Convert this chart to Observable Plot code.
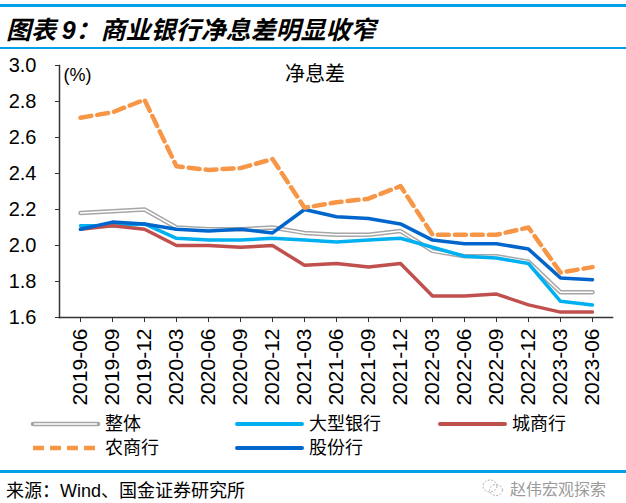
<!DOCTYPE html>
<html>
<head>
<meta charset="utf-8">
<script src="https://cdn.jsdelivr.net/npm/d3@7"></script>
<script src="https://cdn.jsdelivr.net/npm/@observablehq/plot@0.6"></script>
<style>
  body { margin: 0; background: #fff; }
  #page { position: relative; width: 626px; height: 503px; overflow: hidden; background: #fff; }
  .bar { position: absolute; left: 0; width: 626px; background: #00a0e6; }
  #title { position: absolute; left: 6px; top: 10px; font-family: "Noto Sans CJK SC", sans-serif; font-size: 25px; font-weight: bold; font-style: italic; color: #000; white-space: nowrap; }
  #title .num { font-family: "Liberation Sans", Arial, sans-serif; }
  #chart { position: absolute; left: 0; top: 50px; }
  #legend { position: absolute; left: 0; top: 410px; }
  #source { position: absolute; left: 6px; top: 476px; font-family: "Noto Sans CJK SC", sans-serif; font-size: 18px; color: #000; white-space: nowrap; }
  #source .lat { font-family: "Liberation Sans", Arial, sans-serif; }
  #wm { position: absolute; left: 482px; top: 476px; font-family: "Noto Sans CJK SC", sans-serif; font-size: 16px; color: #9a9a9a; white-space: nowrap; display: flex; align-items: center; gap: 6px; }
</style>
</head>
<body>
<div id="page">
  <div class="bar" style="top:4px;height:3px;"></div>
  <div id="title">图表 <span class="num">9</span>：商业银行净息差明显收窄</div>
  <div class="bar" style="top:47px;height:2px;"></div>
  <div id="chart"></div>
  <div id="legend"></div>
  <div class="bar" style="top:470px;height:3px;"></div>
  <div id="source">来源：<span class="lat">Wind</span>、国金证券研究所</div>
  <div id="wm"><svg width="22" height="20" viewBox="0 0 22 20"><ellipse cx="8" cy="8" rx="7" ry="6" fill="none" stroke="#b0b0b0" stroke-width="1" stroke-dasharray="2,1.5"/><ellipse cx="14" cy="12" rx="6.5" ry="5.5" fill="none" stroke="#b0b0b0" stroke-width="1" stroke-dasharray="2,1.5"/></svg><span>赵伟宏观探索</span></div>
</div>
<script>
const dates = ["2019-06","2019-09","2019-12","2020-03","2020-06","2020-09","2020-12","2021-03","2021-06","2021-09","2021-12","2022-03","2022-06","2022-09","2022-12","2023-03","2023-06"];
const overall    = [2.18,2.19,2.20,2.10,2.09,2.09,2.10,2.07,2.06,2.06,2.08,1.97,1.94,1.94,1.91,1.74,1.74];
const largeBanks = [2.11,2.11,2.12,2.04,2.03,2.03,2.04,2.03,2.02,2.03,2.04,1.99,1.94,1.93,1.90,1.69,1.67];
const cityBanks  = [2.09,2.11,2.09,2.00,2.00,1.99,2.00,1.89,1.90,1.88,1.90,1.72,1.72,1.73,1.67,1.63,1.63];
const ruralBanks = [2.71,2.74,2.81,2.44,2.42,2.43,2.48,2.21,2.24,2.26,2.33,2.06,2.06,2.06,2.10,1.85,1.88];
const jointStock = [2.09,2.13,2.12,2.09,2.08,2.09,2.07,2.20,2.16,2.15,2.12,2.03,2.01,2.01,1.98,1.82,1.81];
const seriesNames = ["整体","大型银行","城商行","农商行","股份行"];
const yTicks = [1.6,1.8,2.0,2.2,2.4,2.6,2.8,3.0];

const colors = {"整体":"#a6a6a6","大型银行":"#00b0f0","城商行":"#c0504d","农商行":"#f79646","股份行":"#0066cc"};
const rows = (vals) => dates.map((d, i) => ({date: d, value: vals[i]}));

const latin = "'Liberation Sans', Arial, sans-serif";
const cjk = "'Noto Sans CJK SC', sans-serif";

const chart = Plot.plot({
  width: 626,
  height: 370,
  marginTop: 15,
  marginBottom: 103,
  marginLeft: 59,
  marginRight: 14,
  style: {fontFamily: latin, color: "#000", background: "transparent", overflow: "visible"},
  x: {type: "point", domain: dates, insetLeft: 3, insetRight: 3, label: null},
  y: {domain: [1.6, 3.0], label: null},
  marks: [
    Plot.axisY({ticks: yTicks, tickFormat: d => d.toFixed(1), tickSize: 4, tickPadding: 19, fontSize: 20, fontFamily: latin, stroke: "#333", label: null}),
    Plot.axisX({tickRotate: -90, tickSize: 5, tickPadding: 6, fontSize: 21, fontFamily: latin, stroke: "#333", label: null}),
    Plot.line(rows(overall), {x: "date", y: "value", stroke: colors["整体"], strokeWidth: 4.5}),
    Plot.line(rows(overall), {x: "date", y: "value", stroke: "#ffffff", strokeWidth: 1.5}),
    Plot.line(rows(largeBanks), {x: "date", y: "value", stroke: colors["大型银行"], strokeWidth: 3.5}),
    Plot.line(rows(cityBanks), {x: "date", y: "value", stroke: colors["城商行"], strokeWidth: 3.5}),
    Plot.line(rows(jointStock), {x: "date", y: "value", stroke: colors["股份行"], strokeWidth: 3.5}),
    Plot.line(rows(ruralBanks), {x: "date", y: "value", stroke: colors["农商行"], strokeWidth: 4.5, strokeDasharray: "11,6"}),
    Plot.frame({anchor: "left", stroke: "#333", strokeWidth: 1.5}),
    Plot.frame({anchor: "bottom", stroke: "#333", strokeWidth: 1.5}),
    Plot.text(["(%)"], {frameAnchor: "top-left", dx: 4, dy: 3, fontSize: 18, fontFamily: latin, textAnchor: "start", fill: "#000"}),
    Plot.text(["净息差"], {frameAnchor: "top", dx: -21, dy: 1, fontSize: 20, fontFamily: cjk, fill: "#000"})
  ]
});
document.getElementById("chart").appendChild(chart);

// Legend
const legendItems = [
  {name: "整体", x: 33, y: 14},
  {name: "大型银行", x: 237, y: 14},
  {name: "城商行", x: 440, y: 14},
  {name: "农商行", x: 33, y: 38},
  {name: "股份行", x: 237, y: 38}
];
const svg = d3.create("svg").attr("width", 626).attr("height", 55);
for (const it of legendItems) {
  const g = svg.append("g");
  if (it.name === "整体") {
    g.append("line").attr("x1", it.x).attr("x2", it.x + 65).attr("y1", it.y).attr("y2", it.y).attr("stroke", colors[it.name]).attr("stroke-width", 4.5).attr("stroke-linecap", "round");
    g.append("line").attr("x1", it.x + 1).attr("x2", it.x + 64).attr("y1", it.y).attr("y2", it.y).attr("stroke", "#fff").attr("stroke-width", 1.5);
  } else if (it.name === "农商行") {
    g.append("line").attr("x1", it.x).attr("x2", it.x + 65).attr("y1", it.y).attr("y2", it.y).attr("stroke", colors[it.name]).attr("stroke-width", 4.5).attr("stroke-dasharray", "11,6");
  } else {
    g.append("line").attr("x1", it.x).attr("x2", it.x + 65).attr("y1", it.y).attr("y2", it.y).attr("stroke", colors[it.name]).attr("stroke-width", 4).attr("stroke-linecap", "round");
  }
  g.append("text").attr("x", it.x + 72).attr("y", it.y).attr("dy", "0.36em").attr("font-family", cjk).attr("font-size", 18).attr("fill", "#000").text(it.name);
}
document.getElementById("legend").appendChild(svg.node());
</script>
</body>
</html>
